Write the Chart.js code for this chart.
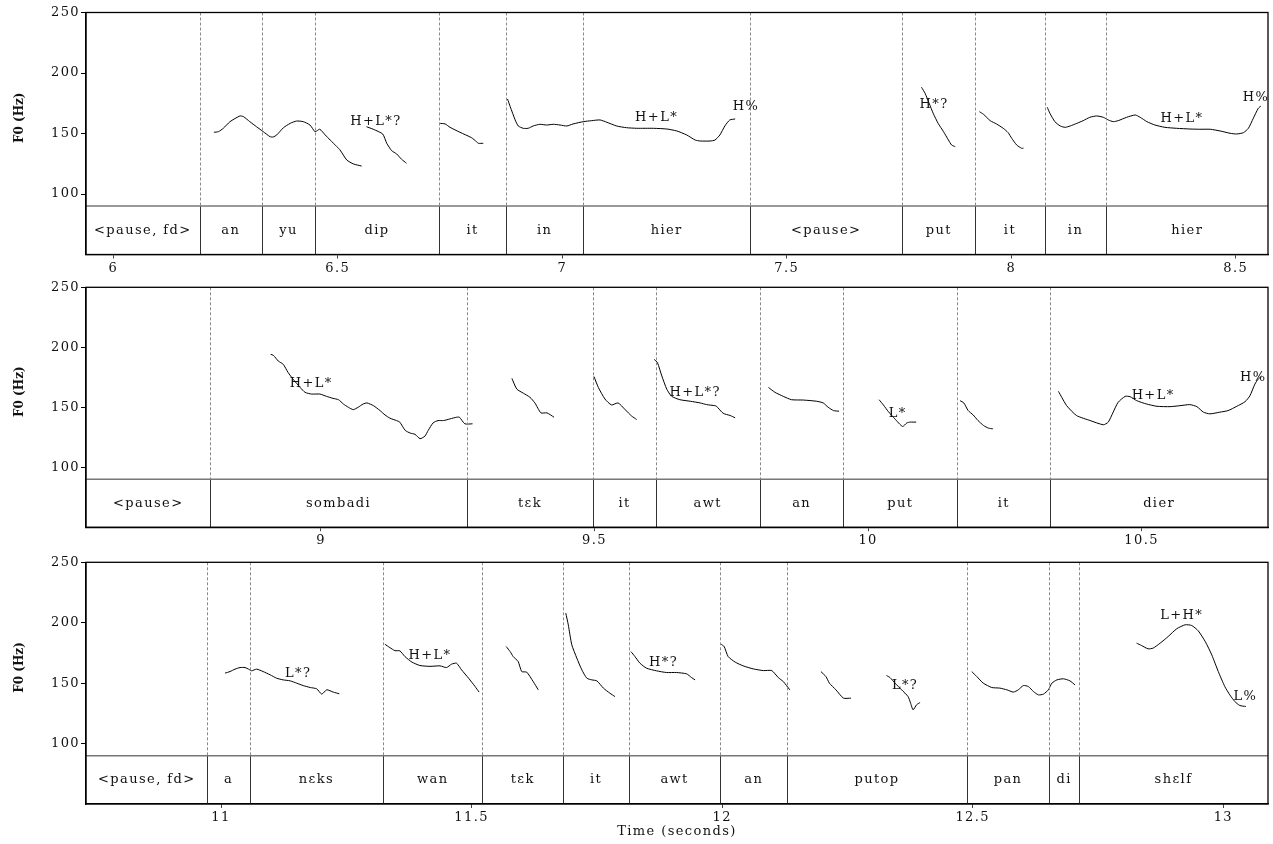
<!DOCTYPE html>
<html>
<head>
<meta charset="utf-8">
<script src="https://cdn.jsdelivr.net/npm/chart.js@4.4.0/dist/chart.umd.min.js"></script>
<style>
html, body { margin: 0; padding: 0; background: #fff; }
body { position: relative; width: 1273px; height: 844px; overflow: hidden; }
canvas { position: absolute; left: 0; }
</style>
</head>
<body>
<canvas id="p1" width="1273" height="285" style="top:0px"></canvas>
<canvas id="p2" width="1273" height="285" style="top:270px"></canvas>
<canvas id="p3" width="1273" height="299" style="top:545px"></canvas>
<script>
Chart.defaults.font.family = '"DejaVu Serif", serif';
Chart.defaults.font.size = 13;
Chart.defaults.color = '#111';

const f0Ticks = [100, 150, 200, 250];

// ---- panel 1 (6 - 8.5 s) ----
const ticks1 = [6, 6.5, 7, 7.5, 8, 8.5];
const bounds1 = [6.192, 6.331, 6.449, 6.726, 6.874, 7.047, 7.418, 7.757, 7.920, 8.074, 8.212];
const words1 = ['<pause, fd>', 'an', 'yu', 'dip', 'it', 'in', 'hier', '<pause>', 'put', 'it', 'in', 'hier'];
const tones1 = [['H+L*?', 6.585, 160], ['H+L*', 7.210, 163], ['H%', 7.409, 172], ['H*?', 7.828, 174], ['H+L*', 8.380, 162], ['H%', 8.545, 180]];
const f0_1 = [
  [[6.224,151.0],[6.234,151.5],[6.245,154.3],[6.260,159.8],[6.282,164.5],[6.290,163.9],[6.304,159.8],[6.319,155.6],[6.334,151.5],[6.349,147.4],[6.356,147.1],[6.364,148.8],[6.379,154.8],[6.394,158.4],[6.408,160.3],[6.423,159.8],[6.438,157.0],[6.449,151.5],[6.453,152.1],[6.460,153.5],[6.472,148.8],[6.483,144.6],[6.498,139.1],[6.505,136.4],[6.520,128.1],[6.535,124.8],[6.553,123.1]],
  [[6.564,155.6],[6.579,153.5],[6.600,149.6],[6.609,141.9],[6.620,135.8],[6.631,133.1],[6.642,128.7],[6.653,125.4]],
  [[6.726,158.4],[6.739,157.9],[6.750,155.1],[6.772,151.0],[6.798,146.5],[6.809,143.2],[6.813,141.9],[6.824,141.9]],
  [[6.878,178.5],[6.884,172.2],[6.895,161.2],[6.902,156.2],[6.913,154.3],[6.924,154.3],[6.935,156.2],[6.950,157.6],[6.965,157.0],[6.980,157.6],[6.995,157.0],[7.010,156.2],[7.024,157.9],[7.047,159.8],[7.065,160.6],[7.084,161.2],[7.099,159.3],[7.121,156.2],[7.143,154.8],[7.166,154.3],[7.203,154.3],[7.233,153.7],[7.255,152.1],[7.277,148.8],[7.296,144.6],[7.307,143.8],[7.329,143.8],[7.340,144.6],[7.351,148.8],[7.362,156.2],[7.373,161.2],[7.385,162.0]],
  [[7.800,188.2],[7.808,183.2],[7.817,175.0],[7.826,166.7],[7.837,158.4],[7.849,151.5],[7.860,144.6],[7.867,140.5],[7.875,139.1]],
  [[7.929,168.0],[7.938,165.9],[7.953,160.6],[7.967,157.9],[7.982,154.3],[7.993,150.7],[8.001,146.0],[8.012,140.5],[8.023,137.8],[8.027,137.8]],
  [[8.080,171.7],[8.086,166.7],[8.097,159.8],[8.109,156.2],[8.120,155.1],[8.131,156.2],[8.146,158.4],[8.160,160.6],[8.175,163.4],[8.190,164.5],[8.205,163.4],[8.216,161.2],[8.227,159.8],[8.238,160.6],[8.257,163.4],[8.276,165.3],[8.287,163.4],[8.302,159.8],[8.320,157.0],[8.342,155.1],[8.368,154.3],[8.398,153.7],[8.420,153.5],[8.443,153.5],[8.465,152.1],[8.487,150.2],[8.502,149.6],[8.517,150.7],[8.528,154.3],[8.539,162.6],[8.550,170.8],[8.556,172.7]]
];

// ---- panel 2 (8.6 - 10.7 s) ----
const ticks2 = [9, 9.5, 10, 10.5];
const bounds2 = [8.798, 9.266, 9.498, 9.612, 9.802, 9.955, 10.163, 10.333];
const words2 = ['<pause>', 'sombadi', 'tɛk', 'it', 'awt', 'an', 'put', 'it', 'dier'];
const tones2 = [['H+L*', 8.982, 170], ['H+L*?', 9.684, 162], ['L*', 10.054, 145], ['H+L*', 10.521, 160], ['H%', 10.704, 175]];
const f0_2 = [
  [[8.908,194.1],[8.913,193.3],[8.922,188.5],[8.931,185.8],[8.940,178.9],[8.949,173.4],[8.962,166.5],[8.971,162.4],[8.983,161.0],[8.998,161.0],[9.010,159.1],[9.022,157.4],[9.032,156.3],[9.041,152.7],[9.050,150.0],[9.059,148.0],[9.068,150.0],[9.077,152.7],[9.084,153.6],[9.096,151.3],[9.108,147.2],[9.117,143.6],[9.126,140.9],[9.138,138.9],[9.144,137.6],[9.154,130.7],[9.163,128.5],[9.172,127.4],[9.181,123.8],[9.190,125.9],[9.196,130.7],[9.205,137.0],[9.214,138.9],[9.224,138.9],[9.236,140.3],[9.248,141.7],[9.253,141.7],[9.263,136.2],[9.277,136.2]],
  [[9.349,174.0],[9.358,165.1],[9.370,161.7],[9.382,158.3],[9.391,153.6],[9.402,145.3],[9.413,145.3],[9.426,141.7]],
  [[9.499,175.6],[9.507,166.5],[9.519,156.9],[9.531,151.9],[9.543,153.6],[9.556,148.0],[9.568,142.6],[9.577,139.8]],
  [[9.609,189.9],[9.615,187.2],[9.623,176.1],[9.632,165.1],[9.641,159.1],[9.656,156.3],[9.675,155.0],[9.693,153.6],[9.705,152.2],[9.720,151.3],[9.723,150.8],[9.735,145.0],[9.748,143.1],[9.757,141.2]],
  [[9.818,166.5],[9.830,162.4],[9.845,159.1],[9.860,156.3],[9.882,156.0],[9.906,155.0],[9.918,153.6],[9.927,150.0],[9.937,147.2],[9.947,146.7]],
  [[10.020,156.3],[10.028,151.9],[10.037,146.4],[10.049,140.3],[10.063,134.0],[10.071,137.0],[10.077,137.6],[10.088,137.6]],
  [[10.168,155.5],[10.175,153.6],[10.183,147.2],[10.192,143.6],[10.201,138.9],[10.211,134.8],[10.220,132.6],[10.228,132.0]],
  [[10.348,163.2],[10.354,158.3],[10.363,151.3],[10.381,143.1],[10.406,138.9],[10.430,135.4],[10.439,137.6],[10.448,145.9],[10.457,154.1],[10.470,159.1],[10.479,158.8],[10.491,155.5],[10.509,152.7],[10.528,150.8],[10.552,150.5],[10.570,151.3],[10.588,152.2],[10.601,150.5],[10.613,145.9],[10.625,144.5],[10.643,145.9],[10.658,147.2],[10.674,150.8],[10.689,154.6],[10.698,159.6],[10.707,169.3],[10.713,173.4],[10.719,176.1]]
];

// ---- panel 3 (10.7 - 13.1 s) ----
const ticks3 = [11, 11.5, 12, 12.5, 13];
const bounds3 = [10.973, 11.057, 11.324, 11.521, 11.683, 11.814, 11.996, 12.130, 12.488, 12.653, 12.712];
const words3 = ['<pause, fd>', 'a', 'nɛks', 'wan', 'tɛk', 'it', 'awt', 'an', 'putop', 'pan', 'di', 'shɛlf'];
const tones3 = [['L*?', 11.154, 158], ['H+L*', 11.417, 173], ['H*?', 11.883, 167], ['L*?', 12.365, 148], ['L+H*', 12.917, 206], ['L%', 13.044, 139]];
const f0_3 = [
  [[11.008,158.3],[11.018,159.6],[11.028,161.6],[11.038,162.9],[11.048,162.9],[11.055,161.6],[11.061,160.2],[11.071,161.6],[11.084,159.6],[11.098,156.9],[11.111,154.1],[11.124,152.7],[11.138,151.9],[11.151,150.0],[11.164,148.0],[11.178,146.4],[11.191,145.3],[11.201,140.9],[11.211,144.5],[11.224,142.6],[11.236,141.2]],
  [[11.327,182.2],[11.337,179.4],[11.347,176.9],[11.357,176.7],[11.367,172.0],[11.381,167.4],[11.397,164.6],[11.417,163.9],[11.437,164.3],[11.450,162.9],[11.460,165.7],[11.470,166.5],[11.480,161.0],[11.494,154.1],[11.507,147.2],[11.515,142.6]],
  [[11.569,180.3],[11.577,176.1],[11.583,172.0],[11.593,167.9],[11.600,159.6],[11.610,159.1],[11.623,151.3],[11.633,144.5]],
  [[11.688,207.9],[11.693,198.2],[11.700,181.7],[11.710,170.7],[11.720,161.0],[11.730,154.1],[11.740,152.7],[11.750,151.9],[11.763,145.9],[11.776,141.7],[11.786,138.9]],
  [[11.818,176.1],[11.826,172.0],[11.836,166.5],[11.849,162.4],[11.869,160.2],[11.889,158.8],[11.909,158.8],[11.929,157.7],[11.939,154.6],[11.946,152.7]],
  [[11.998,182.2],[12.004,180.3],[12.012,172.0],[12.026,167.4],[12.042,164.3],[12.062,161.8],[12.082,160.4],[12.099,160.4],[12.112,154.6],[12.122,151.3],[12.135,144.5]],
  [[12.197,159.6],[12.207,155.5],[12.214,150.0],[12.227,144.5],[12.242,137.6],[12.257,137.6]],
  [[12.328,156.3],[12.335,154.6],[12.345,150.0],[12.358,144.5],[12.371,138.9],[12.376,133.5],[12.381,127.9],[12.388,132.1],[12.395,134.0]],
  [[12.498,159.6],[12.508,155.5],[12.521,150.0],[12.538,146.4],[12.554,145.9],[12.568,144.5],[12.581,142.6],[12.591,144.5],[12.601,148.0],[12.611,147.2],[12.621,143.1],[12.631,140.3],[12.641,140.9],[12.651,144.5],[12.658,150.0],[12.668,152.7],[12.681,153.6],[12.694,151.9],[12.704,148.6]],
  [[12.827,183.1],[12.837,181.1],[12.850,178.4],[12.860,179.0],[12.874,183.1],[12.890,188.6],[12.907,195.0],[12.924,198.3],[12.937,197.7],[12.950,193.3],[12.964,184.4],[12.977,173.4],[12.990,159.6],[13.003,147.2],[13.013,140.3],[13.023,134.8],[13.033,131.5],[13.045,130.7]]
];

// draws the word tier, boundaries, tone labels, frame and y title
function tierPlugin(bounds, words, tones) {
  return {
    id: 'tiers',
    beforeDraw(chart) { chart.ctx.letterSpacing = '1.4px'; },
    afterDatasetsDraw(chart) {
      const ctx = chart.ctx, a = chart.chartArea;
      const x = chart.scales.x, y = chart.scales.y;
      const yt = y.getPixelForValue(90);
      const px = v => Math.round(x.getPixelForValue(v)) + 0.5;
      ctx.save();
      ctx.lineWidth = 1;
      ctx.strokeStyle = '#8a8a8a';
      ctx.setLineDash([3, 2]);
      ctx.beginPath();
      bounds.forEach(b => { ctx.moveTo(px(b), a.top); ctx.lineTo(px(b), yt); });
      ctx.stroke();
      ctx.setLineDash([]);
      ctx.strokeStyle = '#333';
      ctx.beginPath();
      bounds.forEach(b => { ctx.moveTo(px(b), yt); ctx.lineTo(px(b), a.bottom); });
      ctx.stroke();
      ctx.strokeStyle = '#777';
      ctx.lineWidth = 1.5;
      ctx.beginPath();
      ctx.moveTo(a.left, yt);
      ctx.lineTo(a.right, yt);
      ctx.stroke();
      ctx.strokeStyle = '#000';
      ctx.lineWidth = 1.3;
      ctx.strokeRect(a.left, a.top, a.right - a.left, a.bottom - a.top);

      ctx.fillStyle = '#111';
      ctx.font = '13px "DejaVu Serif"';
      ctx.textAlign = 'center';
      ctx.textBaseline = 'middle';
      const edges = [x.min].concat(bounds, [x.max]);
      const yw = y.getPixelForValue(70);
      words.forEach((w, i) => {
        ctx.fillText(w, (x.getPixelForValue(edges[i]) + x.getPixelForValue(edges[i + 1])) / 2, yw);
      });
      tones.forEach(([lab, t, hz]) => {
        ctx.fillText(lab, x.getPixelForValue(t), y.getPixelForValue(hz));
      });

      ctx.letterSpacing = '0px';
      ctx.font = 'bold 12px "DejaVu Serif"';
      ctx.translate(20, y.getPixelForValue(163));
      ctx.rotate(-Math.PI / 2);
      ctx.fillText('F0 (Hz)', 0, 0);
      ctx.restore();
    }
  };
}

function panel(id, xMin, xMax, xTicks, f0, bounds, words, tones, box) {
  new Chart(document.getElementById(id), {
    type: 'line',
    data: {
      datasets: f0.map(seg => ({
        data: seg.map(p => ({ x: p[0], y: p[1] })),
        borderColor: '#000',
        borderWidth: 1,
        pointRadius: 0,
        tension: 0.2,
        fill: false
      }))
    },
    options: {
      responsive: false,
      animation: false,
      events: [],
      layout: { padding: { left: 0, right: 5, top: box.top, bottom: box.bottom } },
      plugins: { legend: { display: false }, tooltip: { enabled: false } },
      scales: {
        x: {
          type: 'linear',
          min: xMin,
          max: xMax,
          afterBuildTicks: s => { s.ticks = xTicks.map(v => ({ value: v })); },
          afterFit: s => { s.height = box.axis; },
          grid: { drawOnChartArea: false, tickLength: 4, color: '#444' },
          border: { color: '#000', width: 1.3 },
          ticks: { padding: 2, maxRotation: 0, autoSkip: false, color: '#111', callback: v => String(v) },
          title: { display: !!box.title, text: box.title || '', color: '#111', padding: { top: 0, bottom: 5 } }
        },
        y: {
          min: 50,
          max: 250,
          afterBuildTicks: s => { s.ticks = f0Ticks.map(v => ({ value: v })); },
          afterFit: s => { s.width = 86; },
          grid: { drawOnChartArea: false, tickLength: 5, color: '#000' },
          border: { color: '#000', width: 1.3 },
          ticks: { padding: 1, autoSkip: false, color: '#111' }
        }
      }
    },
    plugins: [tierPlugin(bounds, words, tones)]
  });
}

panel('p1', 5.9392, 8.5717, ticks1, f0_1, bounds1, words1, tones1, { top: 12.5, axis: 25, bottom: 5.5 });
panel('p2', 8.5705, 10.731, ticks2, f0_2, bounds2, words2, tones2, { top: 17.3, axis: 25, bottom: 2.8 });
panel('p3', 10.7306, 13.0892, ticks3, f0_3, bounds3, words3, tones3, { top: 17.3, axis: 40, bottom: 0, title: 'Time (seconds)' });
</script>
</body>
</html>
